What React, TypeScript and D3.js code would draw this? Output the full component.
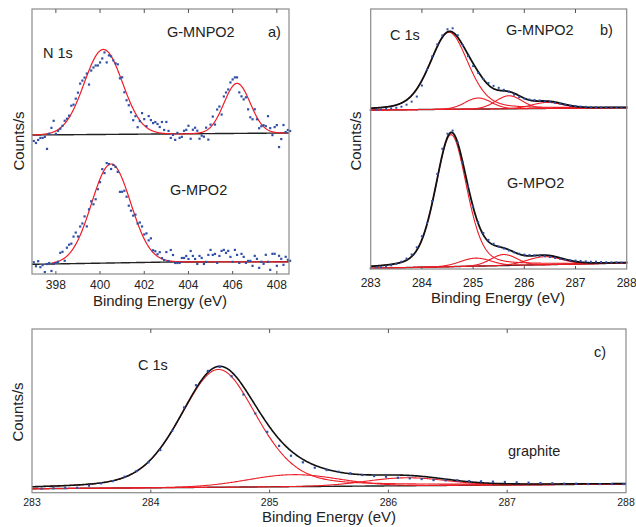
import React from 'react';
import * as d3 from 'd3';

// ---------------- Panel a : N 1s ----------------
const aStartEnergy = 397.0;
const aStepEnergy = 0.1;
const aTopCounts = [
  -6, -8, -5, -3, -3, -2, -14, 1, 7, 14,
  1, 4, 6, 9, 14, 16, 19, 29, 30, 36,
  42, 51, 54, 57, 61, 50, 64, 67, 69, 69,
  72, 76, 82, 72, 79, 78, 74, 71, 70, 56,
  57, 42, 34, 29, 22, 14, 18, 7, 13, 21,
  15, 8, 18, 14, 11, 12, 10, 7, 12, 4,
  12, 3, -4, -1, -6, 1, -4, -3, 3, 4,
  8, -5, 4, 6, 3, -5, -2, -3, 6, -6,
  9, 17, 9, 24, 27, 19, 37, 41, 44, 51,
  54, 56, 56, 41, 37, 34, 36, 24, 16, 14,
  24, 14, 5, 7, 8, 7, 17, 5, -2, 6,
  8, -14, -6, 8, 1, 3, 2,
];
const aBottomCounts = [
  2, -2, 3, -3, -1, -8, 0, 1, -7, 0,
  1, 2, 11, 12, 3, 16, 19, 20, 27, 31,
  27, 37, 40, 47, 37, 54, 62, 59, 64, 74,
  81, 94, 90, 100, 99, 94, 98, 96, 91, 71,
  71, 72, 66, 57, 52, 47, 48, 39, 40, 36,
  28, 29, 22, 24, 12, 11, 8, 10, 4, 2,
  10, 1, 12, 7, -1, -1, -1, 4, 4, 6,
  3, 11, 6, 3, -2, 6, 4, -2, 0, 7,
  12, 7, 8, -1, 6, 11, 12, 9, 11, 5,
  0, 12, 7, -1, 8, 5, -1, 1, 1, -4,
  6, 3, -6, 0, -2, 7, 0, -8, 8, 8,
  -4, 6, 3, -3, 5, 2, 1,
];
const aTopPeakCenters = [400.15, 406.2];
const aTopPeakHeights = [85, 50];
const aTopPeakFwhm = [2.04, 1.4];
const aBottomPeakCenters = [400.5];
const aBottomPeakHeights = [99];
const aBottomPeakFwhm = [2.08];
const aTopBackgroundE = [396.92, 408.55];
const aTopBackgroundV = [-1, 1];
const aBottomBackgroundE = [396.92, 403.2, 408.55];
const aBottomBackgroundV = [-2.3, 0, 0.2];
const aTopOffset = 140;
const aBottomOffset = 12;
const aTicks = [398, 400, 402, 404, 406, 408];

// ---------------- Panel b : C 1s ----------------
const bStartEnergy = 283.0;
const bStepEnergy = 0.1;
const bTopCounts = [
  0, 0, 0.5, 1, 1.5, 2, 3, 5, 8, 13,
  24, 40, 53, 65, 74, 80, 81, 74, 64, 53,
  43, 36, 30, 26, 23, 21, 19, 17, 14, 11.5,
  10, 9, 8.5, 8, 7, 6.5, 5.5, 4.5, 3.5, 2.5,
  2, 1.5, 1.2, 1, 0.8, 0.6, 0.5, 0.4, 0.3, 0.2,
  0.2,
];
const bBottomCounts = [
  0, 0.5, 1, 1.5, 2.5, 4, 6, 9, 13, 20,
  31, 44, 66, 93, 118, 133, 136, 124, 104, 80,
  60, 44, 33, 26, 22, 19, 17, 15, 13, 11.5,
  10.5, 10, 9.5, 9, 8.5, 7.5, 6.5, 5.5, 4.5, 4,
  3.5, 3, 2.5, 2, 2, 1.5, 1.2, 1, 0.8, 0.5,
  0.5,
];
const bTopCenters = [284.53, 285.1, 285.7, 286.45];
const bTopHeights = [77, 11, 13, 6];
const bTopFwhm = [0.88, 0.6, 0.6, 0.7];
const bTopEta = [0.3, 0, 0, 0];
const bBottomCenters = [284.57, 285.05, 285.6, 286.4];
const bBottomHeights = [132, 8, 11, 8];
const bBottomFwhm = [0.72, 0.7, 0.6, 0.8];
const bBottomEta = [0.3, 0, 0, 0];
const bTopBackgroundE = [283, 288];
const bTopBackgroundV = [0, 2.3];
const bBottomBackgroundE = [283, 288];
const bBottomBackgroundV = [0, 5.3];
const bTopOffset = 159;
const bBottomOffset = 0.7;
const bTicks = [283, 284, 285, 286, 287, 288];

// ---------------- Panel c : C 1s graphite ----------------
const cStartEnergy = 283.08;
const cStepEnergy = 0.1;
const cCounts = [
  0, 0.3, 0.5, 0.6, 2.6, 4.8, 7, 11.3, 16.9, 25.5,
  37.7, 56.9, 80.2, 102.4, 116.6, 120.5, 111.1, 92.7, 73.6, 55.1,
  41, 31, 24.3, 18.8, 16.4, 14.6, 12.9, 11.1, 10, 9.2,
  8.1, 7.4, 6.6, 5.5, 5.1, 5, 4.2, 3.8, 3.4, 3,
  2.5, 2.1, 1.7, 1.3, 0.8, 0.7, 0.3, 0.2, 0.1, 0,
];
const cCenters = [284.57, 285.2, 286.15];
const cHeights = [118, 12, 8];
const cFwhm = [0.76, 0.9, 0.8];
const cEta = [0.3, 0, 0];
const cBackgroundE = [283, 288];
const cBackgroundV = [0, 4.7];
const cOffset = 4;
const cTicks = [283, 284, 285, 286, 287, 288];

const FONT = '"Liberation Sans", Arial, Helvetica, sans-serif';
const RED = '#ee1c25';
const DOT = '#3050a8';
const FRAME = '#8a8a8a';

function pv(x: number, c: number, h: number, w: number, eta: number) {
  const d = (x - c) / w;
  const g = Math.exp(-4 * Math.LN2 * d * d);
  const l = 1 / (1 + 4 * d * d);
  return h * (eta * l + (1 - eta) * g);
}

type Scale = d3.ScaleLinear<number, number>;

function bgFn(es: number[], vs: number[]) {
  const s = d3.scaleLinear().domain(es).range(vs).clamp(true);
  return (x: number) => s(x);
}

function path(xs: number[], f: (x: number) => number, sx: Scale, sy: Scale) {
  return d3.line<number>().x((x) => sx(x)).y((x) => sy(f(x)))(xs) || '';
}

function Frame({ sx, sy, ticks, labelSize, labelDy, showLabels }: any) {
  const [x0, x1] = sx.range();
  const [y0, y1] = sy.range();
  return (
    <g>
      <rect x={x0} y={y1} width={x1 - x0} height={y0 - y1} fill="none" stroke={FRAME} strokeWidth={1.2} />
      {ticks.map((t: number) => (
        <g key={t}>
          {t > sx.domain()[0] + 0.01 && t < sx.domain()[1] - 0.01 && (
            <>
              <line x1={sx(t)} x2={sx(t)} y1={y1} y2={y1 + 4} stroke="#555" strokeWidth={1} />
              <line x1={sx(t)} x2={sx(t)} y1={y0} y2={y0 - 3} stroke="#555" strokeWidth={1} />
            </>
          )}
          {showLabels && (
            <text x={sx(t)} y={y0 + labelDy} textAnchor="middle" fontSize={labelSize} fontFamily={FONT} fill="#222">
              {t}
            </text>
          )}
        </g>
      ))}
    </g>
  );
}

function Dots({ start, step, counts, offset, bg, sx, sy, size }: any) {
  return (
    <g fill={DOT}>
      {counts.map((v: number, i: number) => {
        const e = start + step * i;
        return <rect key={i} x={sx(e) - size / 2} y={sy(v + offset + bg(e)) - size / 2} width={size} height={size} />;
      })}
    </g>
  );
}

function Components({ centers, heights, fwhm, eta, bg, offset, sx, sy, xs, blackWidth }: any) {
  const comp = (k: number) => (x: number) => offset + bg(x) + pv(x, centers[k], heights[k], fwhm[k], eta[k]);
  const env = (x: number) =>
    offset + bg(x) + centers.reduce((s: number, c: number, k: number) => s + pv(x, c, heights[k], fwhm[k], eta[k]), 0);
  return (
    <g fill="none">
      <path d={path(xs, (x) => offset + bg(x), sx, sy)} stroke="#222" strokeWidth={1.4} />
      {centers.map((_: number, k: number) => (
        <path key={k} d={path(xs, comp(k), sx, sy)} stroke={RED} strokeWidth={1.1} />
      ))}
      <path d={path(xs, env, sx, sy)} stroke="#111" strokeWidth={blackWidth} />
    </g>
  );
}

export default function App() {
  // Panel a scales
  const xA = d3.scaleLinear().domain([396.92, 408.55]).range([32, 289]);
  const yA = d3.scaleLinear().domain([0, 265]).range([274, 9]);
  const xsA = d3.range(396.92, 408.55, 0.02);
  const bgATop = bgFn(aTopBackgroundE, aTopBackgroundV);
  const bgABot = bgFn(aBottomBackgroundE, aBottomBackgroundV);
  const fitATop = (x: number) =>
    aTopOffset + bgATop(x) + aTopPeakCenters.reduce((s, c, k) => s + pv(x, c, aTopPeakHeights[k], aTopPeakFwhm[k], 0), 0);
  const fitABot = (x: number) =>
    aBottomOffset + bgABot(x) + aBottomPeakCenters.reduce((s, c, k) => s + pv(x, c, aBottomPeakHeights[k], aBottomPeakFwhm[k], 0), 0);
  const xsABotRed = xsA.filter((x) => x >= 397.8);

  // Panel b scales
  const xB = d3.scaleLinear().domain([283, 288]).range([370.7, 626.7]);
  const yB = d3.scaleLinear().domain([0, 260]).range([269, 9]);
  const xsB = d3.range(283, 288.001, 0.01);
  const bgBTop = bgFn(bTopBackgroundE, bTopBackgroundV);
  const bgBBot = bgFn(bBottomBackgroundE, bBottomBackgroundV);

  // Panel c scales
  const xC = d3.scaleLinear().domain([283, 288]).range([32, 626]);
  const yC = d3.scaleLinear().domain([0, 164]).range([492.7, 329]);
  const xsC = d3.range(283, 288.001, 0.01);
  const bgC = bgFn(cBackgroundE, cBackgroundV);

  const titleStyle = { fontFamily: FONT, fontSize: 15, fill: '#222' } as any;
  const labelStyle = { fontFamily: FONT, fontSize: 14.5, fill: '#222' } as any;

  return (
    <svg width={636} height={527} style={{ position: 'absolute', left: 0, top: 0, background: '#fff' }}>
      <rect x={0} y={0} width={636} height={527} fill="#fff" />
      {/* ---------- Panel a ---------- */}
      <g>
        <path d={path(xsA, (x) => aTopOffset + bgATop(x), xA, yA)} fill="none" stroke="#222" strokeWidth={1.4} />
        <path d={path(xsA, fitATop, xA, yA)} fill="none" stroke={RED} strokeWidth={1.2} />
        <path d={path(xsA, (x) => aBottomOffset + bgABot(x), xA, yA)} fill="none" stroke="#222" strokeWidth={1.4} />
        <path d={path(xsABotRed, fitABot, xA, yA)} fill="none" stroke={RED} strokeWidth={1.2} />
        <Dots start={aStartEnergy} step={aStepEnergy} counts={aTopCounts} offset={aTopOffset} bg={bgATop} sx={xA} sy={yA} size={2.2} />
        <Dots start={aStartEnergy} step={aStepEnergy} counts={aBottomCounts} offset={aBottomOffset} bg={bgABot} sx={xA} sy={yA} size={2.2} />
        <Frame sx={xA} sy={yA} ticks={aTicks} labelSize={12} labelDy={15} showLabels />
        <text x={43} y={58} style={labelStyle}>N 1s</text>
        <text x={167} y={37} style={labelStyle}>G-MNPO2</text>
        <text x={268} y={37} style={labelStyle}>a)</text>
        <text x={170} y={195} style={labelStyle}>G-MPO2</text>
        <text x={160} y={306} textAnchor="middle" style={titleStyle}>Binding Energy (eV)</text>
        <text transform="translate(24,141) rotate(-90)" textAnchor="middle" style={titleStyle}>Counts/s</text>
      </g>

      {/* ---------- Panel b ---------- */}
      <g>
        <Components centers={bTopCenters} heights={bTopHeights} fwhm={bTopFwhm} eta={bTopEta} bg={bgBTop} offset={bTopOffset} sx={xB} sy={yB} xs={xsB} blackWidth={1.8} />
        <Components centers={bBottomCenters} heights={bBottomHeights} fwhm={bBottomFwhm} eta={bBottomEta} bg={bgBBot} offset={bBottomOffset} sx={xB} sy={yB} xs={xsB} blackWidth={1.8} />
        <Dots start={bStartEnergy} step={bStepEnergy} counts={bTopCounts} offset={bTopOffset} bg={bgBTop} sx={xB} sy={yB} size={2} />
        <Dots start={bStartEnergy} step={bStepEnergy} counts={bBottomCounts} offset={bBottomOffset} bg={bgBBot} sx={xB} sy={yB} size={2} />
        <Frame sx={xB} sy={yB} ticks={bTicks} labelSize={12} labelDy={18} showLabels />
        <text x={390} y={40} style={labelStyle}>C 1s</text>
        <text x={506} y={35} style={labelStyle}>G-MNPO2</text>
        <text x={600} y={35} style={labelStyle}>b)</text>
        <text x={507} y={188} style={labelStyle}>G-MPO2</text>
        <text x={498} y={303} textAnchor="middle" style={titleStyle}>Binding Energy (eV)</text>
        <text transform="translate(361,141) rotate(-90)" textAnchor="middle" style={titleStyle}>Counts/s</text>
      </g>

      {/* ---------- Panel c ---------- */}
      <g>
        <Components centers={cCenters} heights={cHeights} fwhm={cFwhm} eta={cEta} bg={bgC} offset={cOffset} sx={xC} sy={yC} xs={xsC} blackWidth={1.6} />
        <Dots start={cStartEnergy} step={cStepEnergy} counts={cCounts} offset={cOffset} bg={bgC} sx={xC} sy={yC} size={2.2} />
        <Frame sx={xC} sy={yC} ticks={cTicks} labelSize={10.5} labelDy={13} showLabels />
        <text x={138} y={370} style={labelStyle}>C 1s</text>
        <text x={594} y={357} style={labelStyle}>c)</text>
        <text x={508} y={456} style={labelStyle}>graphite</text>
        <text x={329} y={522} textAnchor="middle" style={titleStyle}>Binding Energy (eV)</text>
        <text transform="translate(23,412) rotate(-90)" textAnchor="middle" style={titleStyle}>Counts/s</text>
      </g>
    </svg>
  );
}
